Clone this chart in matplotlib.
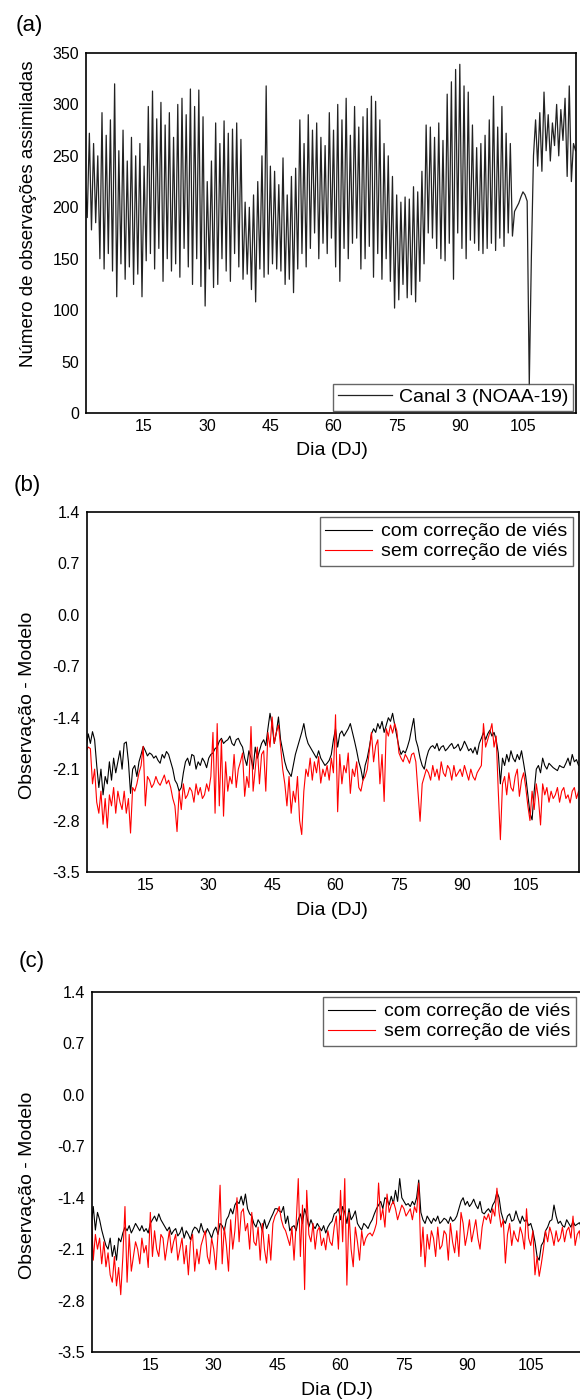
import numpy as np
import matplotlib
matplotlib.use("Agg")
import matplotlib.pyplot as plt

plt.rcParams['font.family'] = ['Liberation Sans', 'DejaVu Sans']
plt.rcParams['axes.unicode_minus'] = False

# dias julianos (dois valores por dia)
dias = np.arange(1, 118)
x = np.column_stack([dias, dias + 0.5]).ravel()

# (a) numero de observacoes assimiladas - picos e vales de cada dia
pico_a = [225, 272, 262, 250, 292, 270, 285, 320, 255, 275,
          245, 268, 250, 262, 240, 298, 313, 286, 302, 280,
          292, 268, 300, 306, 290, 315, 298, 314, 288, 225,
          245, 282, 262, 284, 272, 276, 282, 266, 205, 200,
          212, 225, 250, 318, 240, 235, 222, 248, 212, 230,
          238, 285, 262, 290, 275, 282, 268, 260, 292, 275,
          300, 285, 306, 270, 298, 278, 288, 296, 308, 303,
          285, 262, 250, 230, 212, 205, 210, 208, 220, 215,
          235, 280, 278, 268, 282, 265, 310, 322, 334, 339,
          318, 312, 280, 258, 262, 270, 285, 308, 278, 298,
          272, 262, 196, 204, 215, 206, 152, 285, 292, 312,
          290, 282, 300, 295, 306, 318, 262]
vale_a = [190, 178, 185, 150, 140, 155, 138, 113, 145, 130,
          142, 125, 135, 113, 148, 155, 140, 160, 128, 150,
          138, 145, 132, 160, 142, 125, 150, 123, 104, 140,
          122, 125, 150, 138, 128, 155, 142, 130, 135, 120,
          108, 140, 132, 135, 145, 140, 138, 125, 130, 117,
          140, 155, 142, 160, 175, 150, 165, 155, 170, 142,
          128, 160, 150, 165, 170, 140, 150, 162, 132, 155,
          130, 150, 128, 102, 110, 125, 112, 115, 108, 128,
          145, 175, 170, 160, 150, 148, 165, 130, 175, 160,
          150, 168, 165, 158, 155, 160, 165, 158, 170, 162,
          175, 172, 200, 210, 212, 27, 250, 240, 235, 255,
          245, 260, 250, 265, 230, 225, 255]
obs_a = np.column_stack([pico_a, vale_a]).ravel()

# (b) observacao - modelo
b_com = [-1.80, -1.62, -1.75, -1.59, -1.70, -2.05, -2.35, -2.10, -2.45, -2.20, -2.30, -2.00, -2.25, -1.95, -2.15, -2.00, -1.85, -2.10, -1.75, -1.73,
         -2.00, -2.43, -2.10, -2.05, -2.20, -2.00, -1.90, -1.79, -1.85, -1.92, -1.88, -1.90, -1.95, -1.92, -1.98, -2.02, -1.90, -1.95, -1.86, -1.90,
         -2.00, -2.10, -2.25, -2.30, -2.40, -2.35, -2.15, -2.00, -1.95, -2.05, -1.90, -1.92, -2.10, -2.00, -2.05, -1.95, -2.00, -2.08, -1.95, -1.90,
         -1.88, -1.82, -1.80, -1.72, -1.68, -1.75, -1.72, -1.70, -1.65, -1.75, -1.78, -1.70, -1.68, -1.75, -1.80, -1.95, -2.05, -1.85, -1.95, -2.10,
         -1.80, -1.95, -1.85, -1.75, -1.70, -1.78, -1.55, -1.34, -1.50, -1.75, -1.60, -1.39, -1.70, -1.85, -2.00, -2.10, -2.15, -2.20, -2.05, -1.90,
         -1.80, -1.70, -1.60, -1.48, -1.65, -1.75, -1.80, -1.85, -1.90, -1.95, -1.85, -1.95, -2.00, -2.05, -2.02, -1.98, -1.90, -1.70, -1.55, -1.80,
         -1.62, -1.58, -1.65, -1.60, -1.55, -1.48, -1.60, -1.72, -1.85, -2.00, -2.10, -2.25, -2.05, -1.95, -1.80, -1.62, -1.55, -1.60, -1.48, -1.55,
         -1.45, -1.60, -1.50, -1.40, -1.45, -1.34, -1.50, -1.65, -1.80, -1.90, -1.85, -1.88, -1.80, -1.70, -1.55, -1.41, -1.70, -1.80, -1.95, -2.05,
         -2.10, -1.95, -1.85, -1.80, -1.78, -1.82, -1.75, -1.85, -1.80, -1.78, -1.85, -1.82, -1.78, -1.75, -1.82, -1.80, -1.76, -1.85, -1.80, -1.72,
         -1.78, -1.85, -1.82, -1.88, -1.80, -1.90, -1.75, -1.68, -1.60, -1.70, -1.62, -1.57, -1.65, -1.60, -1.70, -1.88, -2.30, -1.95, -2.05, -1.90,
         -2.00, -1.85, -1.95, -2.00, -1.90, -1.97, -1.85, -2.02, -2.20, -2.45, -2.70, -2.79, -2.40, -2.10, -2.05, -2.15, -1.95, -2.05, -2.10, -2.02,
         -2.05, -2.08, -2.10, -2.12, -2.05, -2.07, -2.08, -2.02, -1.95, -2.05, -1.90, -2.00, -1.97, -2.05]
b_sem = [-1.85, -1.80, -1.82, -2.30, -2.10, -2.55, -2.70, -2.40, -2.85, -2.50, -2.90, -2.45, -2.60, -2.35, -2.70, -2.40, -2.55, -2.65, -2.40, -2.70,
         -2.50, -2.97, -2.35, -2.40, -2.30, -2.15, -2.05, -1.79, -2.60, -2.20, -2.25, -2.35, -2.30, -2.20, -2.28, -2.32, -2.25, -2.18, -2.30, -2.25,
         -2.35, -2.50, -2.60, -2.95, -2.40, -2.65, -2.30, -2.50, -2.45, -2.35, -2.40, -2.55, -2.30, -2.45, -2.35, -2.50, -2.45, -2.30, -2.40, -2.20,
         -1.60, -2.70, -1.48, -2.60, -1.70, -2.74, -2.00, -2.40, -2.20, -2.30, -1.90, -2.35, -2.10, -2.00, -1.88, -2.47, -2.20, -2.35, -1.52, -2.40,
         -2.10, -1.80, -2.30, -1.90, -1.85, -2.40, -1.60, -1.80, -1.39, -1.75, -1.60, -1.50, -1.79, -2.10, -2.30, -2.60, -2.20, -2.70, -2.40, -2.55,
         -2.20, -2.80, -2.99, -2.40, -2.10, -2.20, -1.95, -2.25, -2.00, -2.15, -1.93, -2.29, -2.10, -2.20, -2.05, -2.25, -1.95, -2.15, -1.36, -2.68,
         -1.90, -2.30, -2.05, -2.15, -1.88, -2.43, -2.10, -2.20, -2.00, -2.35, -2.40, -2.25, -2.20, -2.10, -1.85, -1.60, -2.00, -1.78, -1.70, -2.30,
         -1.90, -2.54, -1.55, -1.65, -1.50, -1.61, -1.48, -1.58, -1.88, -1.95, -2.00, -1.90, -1.95, -2.02, -1.90, -1.88, -2.00, -2.40, -2.81, -2.30,
         -2.20, -2.10, -2.15, -2.25, -2.05, -2.20, -2.10, -2.25, -2.00, -2.15, -2.20, -2.05, -2.10, -2.25, -2.05, -2.20, -2.15, -2.10, -2.20, -2.05,
         -2.15, -2.25, -2.10, -2.20, -2.25, -2.15, -2.10, -2.05, -1.48, -1.80, -1.70, -1.60, -1.48, -1.80, -1.65, -2.40, -3.06, -2.30, -2.20, -2.45,
         -2.15, -2.35, -2.40, -2.20, -2.10, -2.47, -2.25, -2.15, -2.35, -2.60, -2.80, -2.40, -2.65, -2.30, -2.50, -2.86, -2.30, -2.45, -2.35, -2.55,
         -2.40, -2.50, -2.45, -2.35, -2.55, -2.40, -2.35, -2.50, -2.45, -2.56, -2.40, -2.35, -2.50, -2.40]

# (c) observacao - modelo
c_com = [-1.80, -1.52, -1.84, -1.60, -1.70, -1.84, -1.95, -2.05, -2.10, -1.95, -2.20, -2.05, -2.25, -1.95, -2.00, -1.88, -1.80, -1.85, -1.78, -1.88,
         -1.82, -1.75, -1.80, -1.85, -1.78, -1.86, -1.82, -1.88, -1.75, -1.70, -1.65, -1.72, -1.62, -1.70, -1.75, -1.80, -1.85, -1.80, -1.90, -1.85,
         -1.82, -1.92, -1.88, -1.80, -1.95, -1.85, -1.90, -1.97, -1.85, -1.80, -1.82, -1.88, -1.75, -1.85, -1.90, -1.82, -1.88, -1.95, -1.85, -1.80,
         -1.90, -1.75, -1.78, -1.85, -1.70, -1.65, -1.55, -1.62, -1.50, -1.45, -1.48, -1.38, -1.50, -1.35, -1.55, -1.62, -1.65, -1.75, -1.80, -1.70,
         -1.75, -1.85, -1.70, -1.82, -1.75, -1.68, -1.62, -1.55, -1.55, -1.58, -1.60, -1.52, -1.75, -1.65, -1.85, -1.80, -1.78, -1.85, -1.70, -1.62,
         -1.75, -1.55, -1.65, -1.80, -1.70, -1.78, -1.82, -1.75, -1.80, -1.85, -1.78, -1.88, -1.80, -1.75, -1.72, -1.62, -1.60, -1.55, -1.70, -1.52,
         -1.60, -1.75, -1.55, -1.70, -1.65, -1.58, -1.75, -1.80, -1.84, -1.75, -1.78, -1.82, -1.75, -1.70, -1.62, -1.55, -1.50, -1.45, -1.55, -1.40,
         -1.42, -1.50, -1.38, -1.48, -1.30, -1.45, -1.14, -1.40, -1.45, -1.50, -1.48, -1.52, -1.45, -1.50, -1.40, -1.16, -1.60, -1.70, -1.75, -1.65,
         -1.70, -1.75, -1.68, -1.72, -1.65, -1.75, -1.72, -1.68, -1.70, -1.75, -1.66, -1.72, -1.70, -1.65, -1.55, -1.45, -1.40, -1.50, -1.45, -1.52,
         -1.48, -1.42, -1.50, -1.55, -1.45, -1.60, -1.62, -1.58, -1.55, -1.60, -1.50, -1.45, -1.32, -1.40, -1.60, -1.70, -1.75, -1.65, -1.62, -1.72,
         -1.70, -1.58, -1.68, -1.75, -1.65, -1.72, -1.70, -1.78, -1.75, -1.85, -2.00, -2.20, -2.25, -2.05, -2.00, -1.85, -1.80, -1.72, -1.70, -1.50,
         -1.65, -1.75, -1.72, -1.78, -1.80, -1.70, -1.75, -1.80, -1.72, -1.78, -1.76, -1.74, -1.80, -1.75]
c_sem = [-1.52, -2.25, -1.90, -2.10, -1.95, -2.30, -2.00, -2.34, -2.15, -2.45, -2.55, -2.20, -2.60, -2.35, -2.72, -2.20, -1.52, -2.55, -1.90, -2.40,
         -2.20, -2.00, -2.10, -2.30, -1.95, -2.15, -2.05, -2.35, -1.60, -2.20, -1.85, -2.10, -2.20, -1.90, -1.95, -2.25, -2.05, -1.85, -2.15, -2.00,
         -1.90, -2.25, -2.10, -1.95, -2.30, -2.05, -2.45, -2.00, -1.90, -2.40, -2.10, -2.30, -2.05, -1.95, -1.85, -2.20, -2.30, -1.95, -2.10, -2.38,
         -1.90, -1.23, -2.30, -1.80, -2.05, -2.40, -1.70, -2.10, -1.85, -1.40, -2.00, -1.60, -1.55, -1.85, -1.75, -2.10, -1.60, -2.00, -2.05, -1.80,
         -2.25, -1.75, -2.10, -2.29, -1.90, -2.25, -1.75, -1.65, -1.60, -1.52, -1.70, -1.80, -1.85, -1.95, -2.05, -1.80, -2.25, -1.75, -1.14, -2.20,
         -1.50, -2.65, -1.30, -1.90, -2.00, -1.75, -2.10, -1.85, -1.80, -2.05, -1.95, -2.11, -1.85, -2.00, -2.05, -1.80, -1.65, -2.10, -1.30, -2.00,
         -1.14, -2.59, -1.60, -2.10, -2.34, -1.80, -2.00, -2.25, -1.85, -2.05, -1.95, -1.90, -1.88, -1.92, -1.85, -1.75, -1.20, -1.70, -1.55, -1.80,
         -1.35, -1.60, -1.50, -1.45, -1.55, -1.70, -1.60, -1.50, -1.55, -1.65, -1.60, -1.55, -1.70, -1.52, -1.60, -1.20, -2.20, -1.80, -2.34, -1.90,
         -2.10, -1.85, -1.95, -2.20, -1.80, -2.10, -2.05, -1.85, -1.90, -2.25, -1.75, -2.00, -2.15, -1.85, -2.20, -1.60, -1.75, -2.05, -1.90, -1.70,
         -2.00, -1.85, -1.70, -1.95, -2.10, -1.80, -1.65, -1.70, -1.62, -1.75, -1.55, -1.65, -1.27, -1.60, -1.80, -1.70, -2.29, -1.90, -1.75, -2.05,
         -1.85, -1.95, -2.00, -1.80, -1.90, -2.10, -1.55, -1.95, -2.05, -1.85, -2.45, -2.20, -2.47, -2.30, -2.10, -1.85, -2.00, -1.80, -1.90, -2.05,
         -1.85, -2.00, -1.95, -1.80, -2.00, -1.85, -1.80, -1.95, -1.65, -2.05, -1.90, -1.85, -2.07, -1.95]

xticks = [15, 30, 45, 60, 75, 90, 105]
yticks_a = [0, 50, 100, 150, 200, 250, 300, 350]
yticks_bc = [-3.5, -2.8, -2.1, -1.4, -0.7, 0.0, 0.7, 1.4]
ylabels_bc = ['-3.5', '-2.8', '-2.1', '-1.4', '-0.7', '0.0', '0.7', '1.4']

W, H = 580, 1399
fig = plt.figure(figsize=(W / 100, H / 100), dpi=100)


def caixa(l, r, t, b):
    return [l / W, 1 - b / H, (r - l) / W, (b - t) / H]


def estilo(ax):
    ax.set_xlim(1.2, 117.6)
    ax.set_xticks(xticks)
    ax.tick_params(axis='both', length=0, labelsize=11.5)
    ax.tick_params(axis='x', pad=4)
    ax.tick_params(axis='y', pad=5)
    for s in ax.spines.values():
        s.set_linewidth(1.2)


# painel (a)
ax1 = fig.add_axes(caixa(86, 576, 53, 413))
ax1.plot(x, obs_a, color='#222222', lw=0.9, label='Canal 3 (NOAA-19)')
estilo(ax1)
ax1.set_ylim(0, 350)
ax1.set_yticks(yticks_a)
ax1.set_ylabel('Número de observações assimiladas', fontsize=13.5, va='center')
ax1.yaxis.set_label_coords(-0.118, 0.554)
ax1.set_xlabel('Dia (DJ)', fontsize=14, va='center')
ax1.xaxis.set_label_coords(0.501, -0.103)
leg = ax1.legend(loc='lower right', bbox_to_anchor=(573 / W, 1 - 411 / H),
                 bbox_transform=fig.transFigure, fontsize=14, fancybox=False,
                 handlelength=2.8, handletextpad=0.35, borderpad=0.25, borderaxespad=0)
leg.get_frame().set_edgecolor('#404040')
leg.get_frame().set_linewidth(1)

# paineis (b) e (c)
paineis = [((87, 579, 512, 872), b_com, b_sem, (573, 517), 0.462),
           ((92, 584, 992, 1352), c_com, c_sem, (576, 997), 0.464)]

for pos, com, sem, lpos, ly in paineis:
    ax = fig.add_axes(caixa(*pos))
    ax.plot(x, com, color='black', lw=0.8, label='com correção de viés')
    ax.plot(x, sem, color='#ff0000', lw=0.8, label='sem correção de viés')
    estilo(ax)
    ax.set_ylim(-3.5, 1.4)
    ax.set_yticks(yticks_bc)
    ax.set_yticklabels(ylabels_bc)
    ax.set_ylabel('Observação - Modelo', fontsize=14, va='center')
    ax.yaxis.set_label_coords(-(pos[0] - 28) / 492, ly)
    ax.set_xlabel('Dia (DJ)', fontsize=14, va='center')
    ax.xaxis.set_label_coords(0.497, -0.106)
    leg = ax.legend(loc='upper right', bbox_to_anchor=(lpos[0] / W, 1 - lpos[1] / H),
                    bbox_transform=fig.transFigure, fontsize=14, fancybox=False,
                    handlelength=2.4, handletextpad=0.45, labelspacing=0.12,
                    borderpad=0.3, borderaxespad=0)
    leg.get_frame().set_edgecolor('#404040')
    leg.get_frame().set_linewidth(1)

fig.text(29 / W, 1 - 25 / H, '(a)', ha='center', va='center', fontsize=16)
fig.text(27.5 / W, 1 - 485 / H, '(b)', ha='center', va='center', fontsize=16)
fig.text(31.5 / W, 1 - 961 / H, '(c)', ha='center', va='center', fontsize=16)

fig.savefig('out.png', dpi=100)
